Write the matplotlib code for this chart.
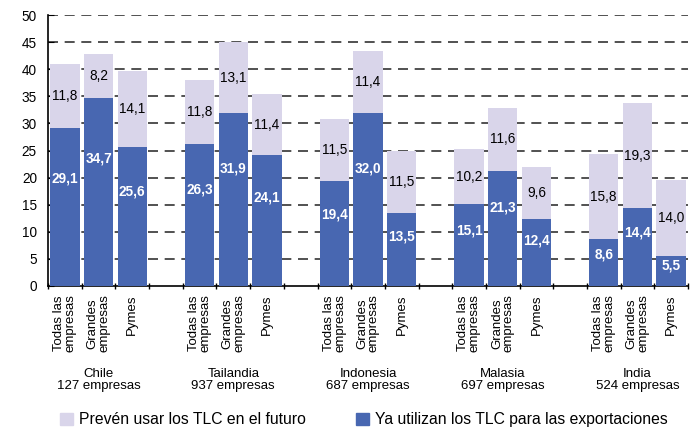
import matplotlib
matplotlib.use('Agg')
import matplotlib.pyplot as plt
from matplotlib.patches import Patch
from matplotlib.transforms import blended_transform_factory
import numpy as np

plt.rcParams['font.family'] = ['Liberation Sans', 'DejaVu Sans']

# data
countries = ['Chile\n127 empresas', 'Tailandia\n937 empresas', 'Indonesia\n687 empresas',
             'Malasia\n697 empresas', 'India\n524 empresas']
groups = ['Todas las\nempresas', 'Grandes\nempresas', 'Pymes']
ya_utilizan = [[29.1, 34.7, 25.6],
               [26.3, 31.9, 24.1],
               [19.4, 32.0, 13.5],
               [15.1, 21.3, 12.4],
               [8.6, 14.4, 5.5]]
preven = [[11.8, 8.2, 14.1],
          [11.8, 13.1, 11.4],
          [11.5, 11.4, 11.5],
          [10.2, 11.6, 9.6],
          [15.8, 19.3, 14.0]]

dark = '#4867B1'
light = '#D9D5EA'

fig = plt.figure(figsize=(6.97, 4.32), dpi=100)
ax = fig.add_axes([0.069, 0.338, 0.918, 0.627])

xs, labels = [], []
for i in range(len(countries)):
    for j in range(3):
        x = i * 4 + j
        lo = ya_utilizan[i][j]
        hi = preven[i][j]
        ax.bar(x, lo, width=0.87, color=dark, zorder=3)
        ax.bar(x, hi, bottom=lo, width=0.87, color=light, zorder=3)
        ax.text(x, lo * 0.68, f'{lo:.1f}'.replace('.', ','), ha='center', va='center',
                color='white', fontweight='bold', fontsize=9.8, zorder=4)
        ax.text(x, lo + hi / 2, f'{hi:.1f}'.replace('.', ','), ha='center', va='center',
                color='black', fontsize=9.8, zorder=4)
        xs.append(x)
        labels.append(groups[j])

ax.set_xlim(-0.5, 18.5)
ax.set_ylim(0, 50)
ax.set_yticks(np.arange(0, 51, 5))
ax.tick_params(axis='y', labelsize=9.8, length=4, direction='in', pad=8)
for y in range(5, 51, 5):
    ax.axhline(y, color='#333333', lw=1.2, dashes=(6, 4), zorder=1)

ax.set_xticks(xs)
ax.set_xticklabels(labels, rotation=90, fontsize=9.5, linespacing=0.95, va='top')
ax.tick_params(axis='x', length=0, pad=6)
ax.set_xticks(np.arange(-0.5, 19, 1), minor=True)
ax.tick_params(axis='x', which='minor', length=4, direction='inout', width=1)

for s in ['top', 'right']:
    ax.spines[s].set_visible(False)
ax.spines['left'].set_linewidth(1.2)
ax.spines['bottom'].set_linewidth(1.2)

tr = blended_transform_factory(ax.transData, ax.transAxes)
for i, c in enumerate(countries):
    ax.text(i * 4 + 1, -0.347, c, transform=tr, ha='center', va='center',
            fontsize=9.5, linespacing=1.1)

handles = [Patch(color=light, label='Prevén usar los TLC en el futuro'),
           Patch(color=dark, label='Ya utilizan los TLC para las exportaciones')]
fig.legend(handles=handles, loc='center', bbox_to_anchor=(0.522, 0.028), ncol=2,
           frameon=False, fontsize=11.3, handlelength=0.85, handleheight=0.85,
           columnspacing=3.2, handletextpad=0.35)

fig.savefig('out.png', dpi=100)
